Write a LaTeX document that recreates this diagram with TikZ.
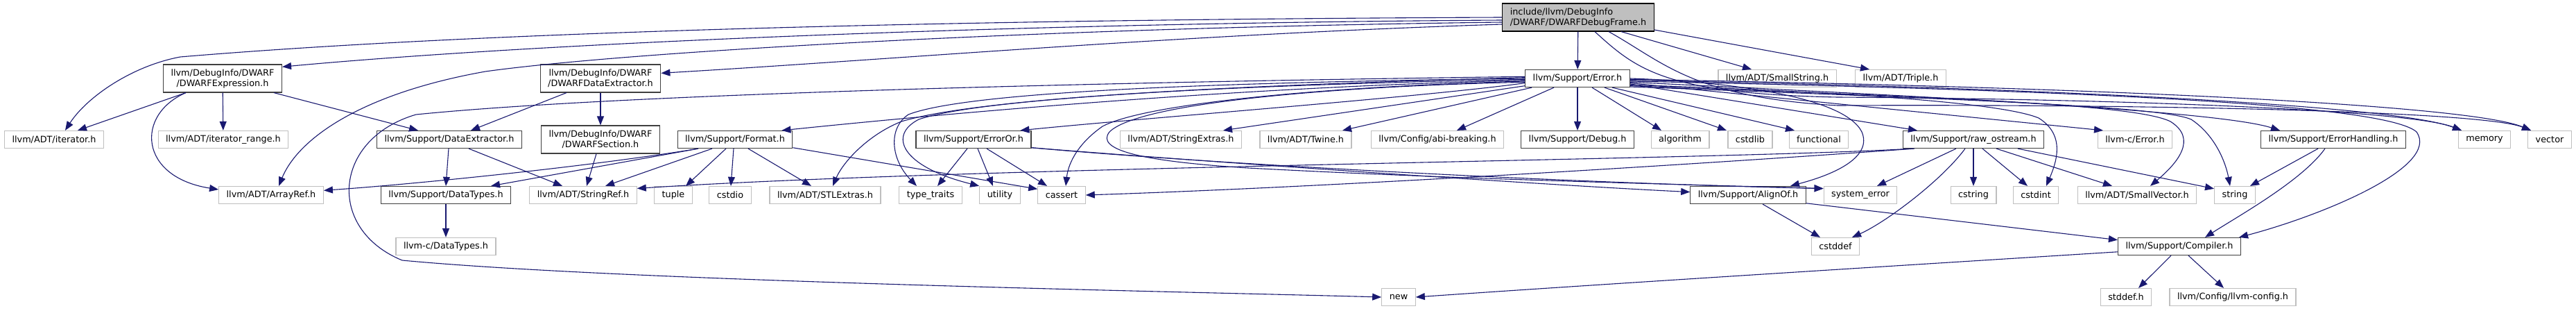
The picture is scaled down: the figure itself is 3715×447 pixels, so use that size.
\documentclass[tikz,border=0pt]{standalone}
\usepackage{fontspec}
\setmainfont{DejaVu Sans}
\usetikzlibrary{arrows.meta}
\definecolor{edgeblue}{HTML}{191970}
\definecolor{leafgray}{HTML}{BFBFBF}
\definecolor{docgray}{HTML}{404040}

\begin{document}
\begin{tikzpicture}[x=1pt,y=-1pt,
  box/.style={rectangle,draw,line width=1.2pt,inner xsep=11pt,inner ysep=2pt,minimum height=25pt,font=\fontsize{12.8}{15}\selectfont,align=center},
  leaf/.style={box,draw=leafgray},
  doc/.style={box,draw=docgray},
  tall/.style={minimum height=40pt},
  dep/.style={draw=edgeblue,line width=1.1pt,-{Triangle[length=13pt,width=10pt]}}]
  \useasboundingbox (0,0) rectangle (3715,447);
  % the header itself
  \node[box,fill=leafgray,draw=black,tall,align=left] (root) at (2276,25) {include/llvm/DebugInfo\\/DWARF/DWARFDebugFrame.h};
  % row 1
  \node[doc,tall] (dexpr) at (321,113) {llvm/DebugInfo/DWARF\\/DWARFExpression.h};
  \node[doc,tall] (ddext) at (866,113) {llvm/DebugInfo/DWARF\\/DWARFDataExtractor.h};
  \node[doc] (error) at (2275,113) {llvm/Support/Error.h};
  \node[leaf] (sstr) at (2563,113) {llvm/ADT/SmallString.h}; \node[leaf] (triple) at (2741,113) {llvm/ADT/Triple.h};
  % row 2
  \node[leaf] (iter) at (78,201) {llvm/ADT/iterator.h}; \node[leaf] (itrange) at (322,201) {llvm/ADT/iterator\_range.h};
  \node[doc] (dext) at (648,201) {llvm/Support/DataExtractor.h};
  \node[doc,tall] (dsect) at (866,201) {llvm/DebugInfo/DWARF\\/DWARFSection.h};
  \node[doc] (format) at (1060,201) {llvm/Support/Format.h}; \node[doc] (erroror) at (1404,201) {llvm/Support/ErrorOr.h};
  \node[leaf] (strext) at (1703,201) {llvm/ADT/StringExtras.h}; \node[leaf] (twine) at (1883,201) {llvm/ADT/Twine.h};
  \node[leaf] (abi) at (2073,201) {llvm/Config/abi-breaking.h}; \node[doc] (debug) at (2275,201) {llvm/Support/Debug.h};
  \node[leaf] (algo) at (2423,201) {algorithm}; \node[leaf] (cstdlib) at (2524,201) {cstdlib}; \node[leaf] (functional) at (2623,201) {functional};
  \node[doc] (rawos) at (2846,201) {llvm/Support/raw\_ostream.h}; \node[leaf] (cerror) at (3079,201) {llvm-c/Error.h};
  \node[doc] (errhand) at (3365,201) {llvm/Support/ErrorHandling.h};
  \node[leaf] (memory) at (3583,201) {memory}; \node[leaf] (vector) at (3677,201) {vector};
  % row 3
  \node[leaf] (arrayref) at (391,281) {llvm/ADT/ArrayRef.h}; \node[doc] (datatypes) at (643,281) {llvm/Support/DataTypes.h};
  \node[leaf] (stringref) at (841,281) {llvm/ADT/StringRef.h};
  \node[leaf] (tuple) at (971,281) {tuple}; \node[leaf] (cstdio) at (1053,281) {cstdio};
  \node[leaf] (stlextras) at (1190,281) {llvm/ADT/STLExtras.h};
  \node[leaf] (typetraits) at (1342,281) {type\_traits}; \node[leaf] (utility) at (1442,281) {utility}; \node[leaf] (cassert) at (1531,281) {cassert};
  \node[doc] (alignof) at (2521,281) {llvm/Support/AlignOf.h}; \node[leaf] (syserr) at (2683,281) {system\_error};
  \node[leaf] (cstring) at (2846,281) {cstring}; \node[leaf] (cstdint) at (2936,281) {cstdint};
  \node[leaf] (smallvec) at (3082,281) {llvm/ADT/SmallVector.h}; \node[leaf] (string) at (3223,281) {string};
  % row 4 and 5
  \node[leaf] (cdatatypes) at (643,355) {llvm-c/DataTypes.h}; \node[leaf] (cstddef) at (2647,355) {cstddef};
  \node[doc] (compiler) at (3143,355) {llvm/Support/Compiler.h};
  \node[leaf] (newh) at (2017,428) {new}; \node[leaf] (stddef) at (3066,428) {stddef.h};
  \node[leaf] (llvmconfig) at (3220,428) {llvm/Config/llvm-config.h};

  % includes of the header
  \draw[dep] (root.west) .. controls (1400,28) and (700,45) .. (260,82) .. controls (190,95) and (125,140) .. ([xshift=16pt]iter.north);
  \draw[dep] ([yshift=-4pt]root.west) .. controls (1500,33) and (800,60) .. (dexpr.11);
  \draw[dep] ([yshift=-7pt]root.west) .. controls (1500,40) and (900,75) .. (700,103) .. controls (520,135) and (430,200) .. ([xshift=11pt]arrayref.north);
  \draw[dep] ([yshift=-10pt]root.west) .. controls (1700,50) and (1300,85) .. (ddext.5);
  \draw[dep] (root) -- (error);
  \draw[dep] ([xshift=62pt]root.south) -- ([xshift=-37pt]sstr.north);
  \draw[dep] ([yshift=-18pt]root.east) -- ([xshift=-45pt]triple.north);
  \draw[dep] ([xshift=24pt]root.south) .. controls (2360,100) and (2400,135) .. (2650,140) .. controls (3100,143) and (3480,160) .. ([xshift=-33pt]memory.north);
  \draw[dep] ([xshift=44pt]root.south) .. controls (2400,90) and (2440,140) .. (2650,152) .. controls (3100,150) and (3580,160) .. ([xshift=-27pt]vector.north);

  % Error.h, to the left
  \draw[dep] (error.182) .. controls (1800,125) and (1400,160) .. (format.11);
  \draw[dep] (error.185) .. controls (2050,140) and (1650,170) .. (erroror.11);
  \draw[dep] (error.188) -- ([xshift=61pt]strext.north);
  \draw[dep] ([xshift=10pt]error.south west) -- ([xshift=53pt]twine.north);
  \draw[dep] ([xshift=-34pt]error.south) -- ([xshift=28pt]abi.north);
  \draw[dep] (error) -- (debug);
  \draw[dep] ([xshift=21pt]error.south) -- ([xshift=-27pt]algo.north);
  \draw[dep] ([xshift=39pt]error.south) -- ([xshift=-34pt]cstdlib.north);
  \draw[dep] ([xshift=50pt]error.south) -- ([xshift=-35pt]functional.north);
  \draw[dep] (error.179) .. controls (1700,125) and (1400,145) .. (1300,175) .. controls (1250,195) and (1215,235) .. ([xshift=11pt]stlextras.north);
  \draw[dep] (error.180) .. controls (1800,118) and (1400,130) .. (1310,165) .. controls (1280,185) and (1285,230) .. ([xshift=-20pt]typetraits.north);
  \draw[dep] (error.181) .. controls (1800,122) and (1420,140) .. (1325,172) .. controls (1280,195) and (1300,240) .. (utility.north west);
  \draw[dep] (error.183) .. controls (1900,125) and (1650,150) .. (1590,182) .. controls (1550,210) and (1540,240) .. ([xshift=6pt]cassert.north);
  \draw[dep] (error.178) .. controls (1600,118) and (900,135) .. (600,165) .. controls (480,200) and (470,330) .. (580,375) .. controls (900,405) and (1700,420) .. (newh.west);
  \draw[dep] (error.184) .. controls (1900,125) and (1640,150) .. (1600,190) .. controls (1580,215) and (1640,232) .. (1800,242) .. controls (2100,258) and (2400,265) .. (syserr.170);

  % Error.h, to the right
  \draw[dep] (error.-6) -- ([xshift=-81pt]rawos.north);
  \draw[dep] (error.-5) -- ([xshift=-46pt]cerror.north);
  \draw[dep] (error.-4) .. controls (2800,140) and (3200,160) .. ([xshift=-77pt]errhand.north);
  \draw[dep] (error.-2) .. controls (2900,125) and (3450,150) .. ([xshift=-33pt]memory.north);
  \draw[dep] (error.-1) .. controls (3000,125) and (3560,150) .. ([xshift=-27pt]vector.north);
  \draw[dep] (error.0) .. controls (2500,118) and (2660,140) .. (2685,190) .. controls (2700,225) and (2650,250) .. ([xshift=61pt]alignof.north);
  \draw[dep] (error.-7) .. controls (2600,130) and (2880,145) .. (2940,170) .. controls (2980,195) and (2965,235) .. ([xshift=15pt]cstdint.north);
  \draw[dep] (error.-8) .. controls (2800,140) and (3080,150) .. (3130,175) .. controls (3170,200) and (3140,235) .. ([xshift=19pt]smallvec.north);
  \draw[dep] (error.-9) .. controls (2900,145) and (3120,155) .. (3160,172) .. controls (3195,195) and (3210,235) .. ([xshift=-7pt]string.north);
  \draw[dep] (error.-3) .. controls (3000,130) and (3440,150) .. (3485,190) .. controls (3520,240) and (3350,310) .. ([xshift=86pt]compiler.north);

  % raw_ostream.h
  \draw[dep] ([xshift=-89pt]rawos.south) .. controls (2500,230) and (1400,240) .. (stringref.7);
  \draw[dep] ([xshift=-85pt]rawos.south) .. controls (2400,240) and (1900,270) .. (cassert.east);
  \draw[dep] ([xshift=-25pt]rawos.south) -- ([xshift=24pt]syserr.north);
  \draw[dep] ([xshift=-12pt]rawos.south) .. controls (2800,260) and (2720,320) .. ([xshift=24pt]cstddef.north);
  \draw[dep] (rawos) -- (cstring);
  \draw[dep] ([xshift=13pt]rawos.south) -- ([xshift=-12pt]cstdint.north);
  \draw[dep] ([xshift=33pt]rawos.south) -- ([xshift=-36pt]smallvec.north);
  \draw[dep] ([xshift=64pt]rawos.south) -- (string.163);

  % ErrorHandling.h, Compiler.h, AlignOf.h
  \draw[dep] ([xshift=-22pt]errhand.south) -- ([xshift=22pt]string.north);
  \draw[dep] ([xshift=-12pt]errhand.south) .. controls (3320,260) and (3230,310) .. ([xshift=37pt]compiler.north);
  \draw[dep] (compiler.185) .. controls (2700,385) and (2300,410) .. (newh.east);
  \draw[dep] ([xshift=-12pt]compiler.south) -- ([xshift=18pt]stddef.north);
  \draw[dep] ([xshift=13pt]compiler.south) -- ([xshift=-13pt]llvmconfig.north);
  \draw[dep] ([xshift=21pt]alignof.south) -- ([xshift=-22pt]cstddef.north);
  \draw[dep] (alignof.-8) -- (compiler.174);

  % ErrorOr.h
  \draw[dep] ([xshift=-9pt]erroror.south) -- ([xshift=10pt]typetraits.north);
  \draw[dep] ([xshift=6pt]erroror.south) -- ([xshift=-10pt]utility.north);
  \draw[dep] ([xshift=19pt]erroror.south) -- ([xshift=-21pt]cassert.north);
  \draw[dep] (erroror.-8) .. controls (1700,230) and (2200,265) .. (alignof.177);
  \draw[dep] (erroror.-8) .. controls (1700,232) and (2200,262) .. (syserr.170);

  % Format.h
  \draw[dep] ([xshift=-53pt]format.south) -- ([xshift=65pt]datatypes.north);
  \draw[dep] ([xshift=-53pt]format.south) .. controls (850,240) and (600,265) .. (arrayref.5);
  \draw[dep] ([xshift=-33pt]format.south) -- ([xshift=32pt]stringref.north);
  \draw[dep] ([xshift=-13pt]format.south) -- ([xshift=18pt]tuple.north);
  \draw[dep] ([xshift=-2pt]format.south) -- ([xshift=1pt]cstdio.north);
  \draw[dep] ([xshift=19pt]format.south) -- ([xshift=-20pt]stlextras.north);
  \draw[dep] (format.-8) -- (cassert.166);

  % DWARF headers
  \draw[dep] ([xshift=-53pt]dexpr.south) -- ([xshift=34pt]iter.north);
  \draw[dep] (dexpr) -- (itrange);
  \draw[dep] ([xshift=-53pt]dexpr.south) .. controls (195,165) and (200,255) .. (arrayref.174);
  \draw[dep] ([xshift=74pt]dexpr.south) -- ([xshift=-45pt]dext.north);
  \draw[dep] ([xshift=-49pt]ddext.south) -- ([xshift=31pt]dext.north);
  \draw[dep] (ddext) -- (dsect);
  \draw[dep] ([xshift=-1pt]dext.south) -- (datatypes.north);
  \draw[dep] ([xshift=28pt]dext.south) -- ([xshift=-30pt]stringref.north);
  \draw[dep] ([xshift=-6pt]dsect.south) -- ([xshift=5pt]stringref.north);
  \draw[dep] (datatypes) -- (cdatatypes);
\end{tikzpicture}
\end{document}
